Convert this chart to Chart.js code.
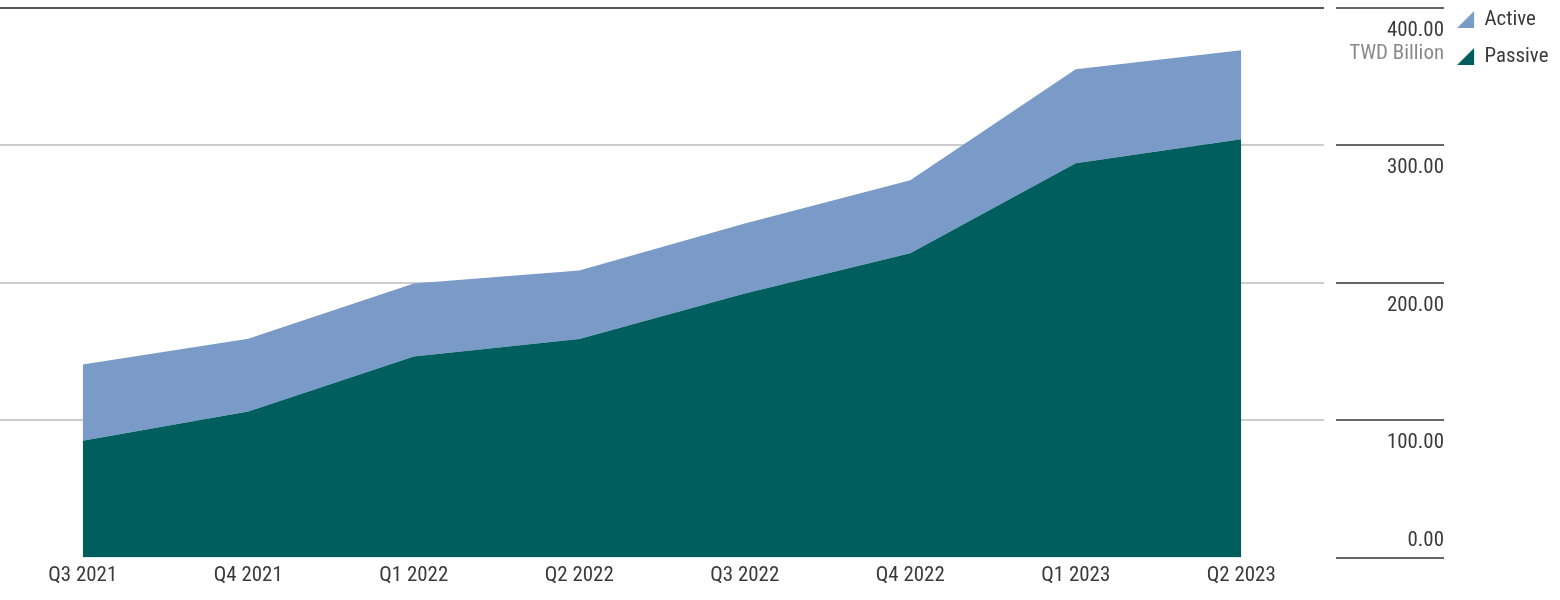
<!DOCTYPE html>
<html>
<head>
<meta charset="utf-8">
<script src="https://cdn.jsdelivr.net/npm/chart.js@4.4.1/dist/chart.umd.min.js"></script>
<style>
html,body{margin:0;padding:0;background:#ffffff;}
#wrap{width:1560px;height:600px;position:relative;}
</style>
</head>
<body>
<div id="wrap"><canvas id="c" width="1560" height="600"></canvas></div>
<script>
const categories = ['Q3 2021','Q4 2021','Q1 2022','Q2 2022','Q3 2022','Q4 2022','Q1 2023','Q2 2023'];
const passiveValues = [85.0, 106.2, 146.2, 159.1, 192.1, 221.3, 286.8, 304.3];
const activeValues = [55.4, 53.0, 53.2, 49.8, 51.0, 53.2, 68.4, 64.8];
const seriesNames = ['Passive', 'Active'];
const yTickValues = [0, 100, 200, 300, 400];
const yTickLabels = ['0.00', '100.00', '200.00', '300.00', '400.00'];
const unitLabel = 'TWD Billion';

// ---- pick an installed regular/light condensed sans font ----
const mctx = document.createElement('canvas').getContext('2d');
function w(font, txt) { mctx.font = font; return mctx.measureText(txt).width; }
const SAMPLE = 'Q3 2021';
function installed(weight, family) {
  const a1 = w(weight + ' 22px ' + family + ', monospace', SAMPLE), b1 = w(weight + ' 22px monospace', SAMPLE);
  const a2 = w(weight + ' 22px ' + family + ', serif', SAMPLE), b2 = w(weight + ' 22px serif', SAMPLE);
  return !(Math.abs(a1 - b1) < 0.01 && Math.abs(a2 - b2) < 0.01);
}
const candidates = [
  { weight: 'normal', family: "'Roboto Condensed'", check: null },
  { weight: 'normal', family: "'Liberation Sans Narrow'", check: null },
  { weight: 'normal', family: "'Noto Sans Condensed'", check: null },
  { weight: 300, family: "'Open Sans Condensed Light'", check: null },
  { weight: 300, family: "'Open Sans Condensed'", check: 'lighter' },
  { weight: 'normal', family: "'DejaVu Sans Condensed'", check: null }
];
let best = null;
for (const c of candidates) {
  if (!installed(c.weight, c.family)) continue;
  if (c.check === 'lighter') {
    const wl = w(c.weight + ' 22px ' + c.family, SAMPLE);
    const wb = w('700 22px ' + c.family, SAMPLE);
    if (!(wl < wb - 0.5)) continue;
  }
  best = { ...c, width: w(c.weight + ' 22px ' + c.family, SAMPLE) };
  break;
}
if (!best) best = { weight: 'normal', family: 'sans-serif', width: w('22px sans-serif', SAMPLE) };
const FONT = best.family + ", 'DejaVu Sans Condensed', sans-serif";
const FW = best.weight;
const FS = Math.max(16, Math.min(24, Math.round(22 * 69 / best.width * 10) / 10));
const LH = '26.4px';
const TEXT = '#3a3a3a';
const PASSIVE = '#005f5e';
const ACTIVE = '#7a9bc7';
const fontObj = () => ({ family: FONT, size: FS, weight: FW, lineHeight: LH });

function triangleImage(color) {
  const c = document.createElement('canvas');
  c.width = 20; c.height = 17;
  const g = c.getContext('2d');
  g.fillStyle = color;
  g.beginPath();
  g.moveTo(0, 17); g.lineTo(17, 17); g.lineTo(17, 0); g.closePath();
  g.fill();
  return c;
}

// legend sits right after the axis
const legPad = 37 - FS, psw = 14;
mctx.font = FW + ' ' + FS + 'px ' + FONT;
const maxText = Math.max(...seriesNames.map(n => mctx.measureText(n).width));
const legendW = legPad + (psw + FS / 2 + maxText) + 10;
const padRight = 1560 - 1444 - legendW;
const padTop = 19.5 - legPad - FS / 2;

const unitPlugin = {
  id: 'unitLabel',
  afterDraw(chart) {
    const s = chart.scales.y;
    const ctx = chart.ctx;
    ctx.save();
    ctx.font = FW + ' ' + FS + 'px ' + FONT;
    ctx.fillStyle = '#8a8a8a';
    ctx.textAlign = 'right';
    ctx.textBaseline = 'middle';
    ctx.fillText(unitLabel, s.right, s.getPixelForValue(yTickValues[yTickValues.length - 1]) + 46);
    ctx.restore();
  }
};

new Chart(document.getElementById('c'), {
  type: 'line',
  data: {
    labels: categories,
    datasets: [
      {
        label: seriesNames[0],
        data: passiveValues,
        fill: 'origin',
        backgroundColor: PASSIVE,
        borderColor: PASSIVE,
        borderWidth: 0,
        pointRadius: 0,
        pointStyle: triangleImage(PASSIVE),
        tension: 0
      },
      {
        label: seriesNames[1],
        data: activeValues,
        fill: '-1',
        backgroundColor: ACTIVE,
        borderColor: ACTIVE,
        borderWidth: 0,
        pointRadius: 0,
        pointStyle: triangleImage(ACTIVE),
        tension: 0
      }
    ]
  },
  options: {
    responsive: false,
    animation: false,
    devicePixelRatio: 1,
    layout: { padding: { top: padTop, left: 0, right: padRight, bottom: 6.4 } },
    plugins: {
      tooltip: { enabled: false },
      legend: {
        position: 'right',
        align: 'start',
        reverse: true,
        labels: {
          usePointStyle: true,
          pointStyleWidth: psw,
          padding: legPad,
          color: TEXT,
          font: fontObj()
        }
      }
    },
    scales: {
      x: {
        type: 'category',
        offset: true,
        grid: { display: false, drawTicks: false },
        border: { display: false },
        ticks: {
          color: TEXT,
          font: fontObj(),
          padding: 4.8,
          maxRotation: 0,
          autoSkip: false
        }
      },
      y: {
        position: 'right',
        stacked: true,
        min: 0,
        max: 400,
        afterBuildTicks: s => { s.ticks = yTickValues.map(v => ({ value: v })); },
        afterFit: s => { s.width = 120; s.paddingTop = 7.7; s.paddingBottom = 0; },
        border: { display: false },
        grid: {
          color: c => {
            const v = c.tick ? c.tick.value : null;
            if (v === yTickValues[yTickValues.length - 1]) return '#555555';
            if (v === yTickValues[0]) return 'rgba(0,0,0,0)';
            return '#cccccc';
          },
          lineWidth: 2,
          drawTicks: true,
          tickLength: 120,
          tickColor: '#666666',
          tickWidth: 2,
          tickBorderDash: [0, 12, 108, 12]
        },
        ticks: {
          color: TEXT,
          font: fontObj(),
          crossAlign: 'far',
          padding: 0,
          labelOffset: 23,
          callback: (v) => {
            const i = yTickValues.indexOf(v);
            const t = yTickLabels[i];
            return i === 0 ? [t, '', '', ''] : t;
          }
        }
      }
    }
  },
  plugins: [unitPlugin]
});
</script>
</body>
</html>
